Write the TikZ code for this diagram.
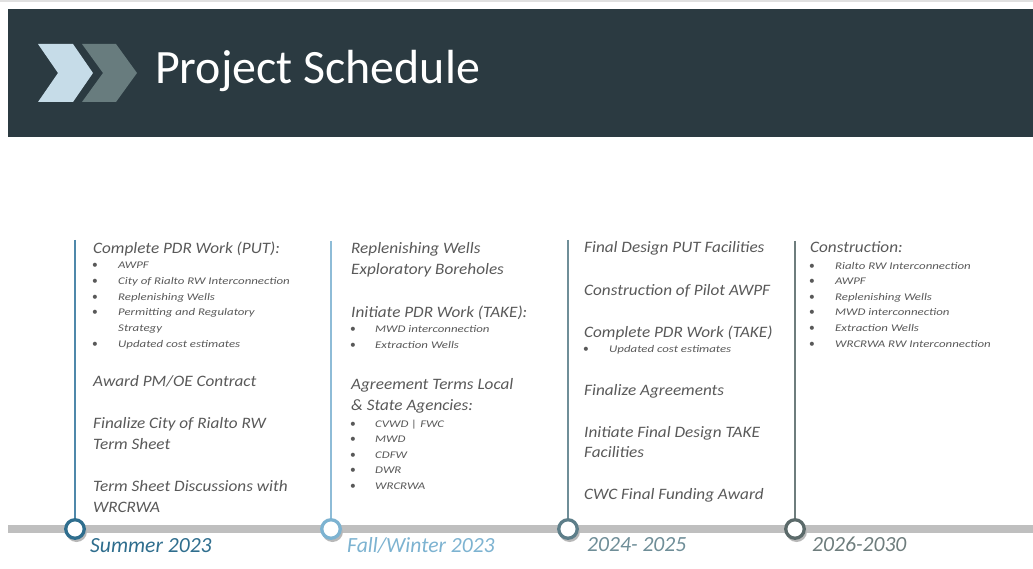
\documentclass[tikz,border=0pt]{standalone}
\usepackage{fontspec}
\setmainfont{Carlito}
\newfontfamily\headfont[FakeStretch=1.08]{Carlito}
\newfontfamily\bulfont[FakeStretch=1.26]{Carlito}
\definecolor{hdr}{HTML}{2B3A41}
\definecolor{chevA}{HTML}{C6DCE8}
\definecolor{chevB}{HTML}{687C7E}
\definecolor{txt}{HTML}{595959}
\definecolor{bar}{HTML}{BFBFBF}
\definecolor{cA}{HTML}{2F6E8E}
\definecolor{lA}{HTML}{4F88AA}
\definecolor{cB}{HTML}{7DB3D1}
\definecolor{lB}{HTML}{8EBCD7}
\definecolor{cC}{HTML}{5D7E89}
\definecolor{lC}{HTML}{6F8E98}
\definecolor{cD}{HTML}{5B6A6A}
\definecolor{lD}{HTML}{6E7D7D}
\tikzset{
  head/.style={anchor=base west, inner sep=0pt, text=txt, font=\headfont\fontsize{15.9}{18}\selectfont\itshape},
  btxt/.style={anchor=base west, inner sep=0pt, text=txt, font=\bulfont\fontsize{10.2}{12}\selectfont\itshape},
  bdot/.style={anchor=base, inner sep=0pt, text=txt, font=\fontsize{11.5}{12}\selectfont},
  year/.style={anchor=base west, inner sep=0pt, font=\fontsize{21.6}{24}\selectfont\itshape},
  stem/.style={line width=1.8pt},
  dot/.style={circle, minimum size=18.5pt, inner sep=0pt, line width=3.3pt, fill=white},
  shadowdot/.style={circle, minimum size=21pt, inner sep=0pt, fill=black!28},
}
\begin{document}
\begin{tikzpicture}[x=1pt,y=-1pt]
\useasboundingbox (0,0) rectangle (1033,569);
\fill[white] (0,0) rectangle (1033,569);
\fill[black!12] (0,0) rectangle (1033,2.5);
% header
\fill[hdr] (8,9) rectangle (1033,137);
\fill[chevB] (82,44) -- (116,44) -- (137,73) -- (116,102) -- (82,102) -- (103,73) -- cycle;
\fill[chevA] (38,44) -- (73,44) -- (93,73) -- (73,102) -- (38,102) -- (58,73) -- cycle;
\node[anchor=base west, inner sep=0pt, text=white, font=\fontsize{47.9}{50}\selectfont] (title) at (155,84) {Project Schedule};
% timeline bar
\fill[bar] (8,525) rectangle (1033,533);
% columns: stems and dots
\coordinate (tA) at (75,240);
\coordinate (tB) at (331,241);
\coordinate (tC) at (568,240);
\coordinate (tD) at (795,241);
\foreach \x in {75,331,568,795}{
  \node[shadowdot] at (\x+1.5,531.5) {};
}
\node[dot, draw=cA] (dA) at (75,529) {};
\node[dot, draw=cB] (dB) at (331,529) {};
\node[dot, draw=cC] (dC) at (568,529) {};
\node[dot, draw=cD] (dD) at (795,529) {};
\draw[stem, lA] (tA) -- (dA.north);
\draw[stem, lB] (tB) -- (dB.north);
\draw[stem, lC] (tC) -- (dC.north);
\draw[stem, lD] (tD) -- (dD.north);
% column A
\node[head] (a1) at (93,254) {Complete PDR Work (PUT):};
\foreach \y/\t [count=\i] in {269/AWPF,285/City of Rialto RW Interconnection,300.5/Replenishing Wells,316/Permitting and Regulatory,347/Updated cost estimates}{
  \node[bdot] (ab\i) at (95,\y) {•};
  \node[btxt] (at\i) at (118,\y) {\t};
}
\node[btxt] (as) at (118,331) {Strategy};
\node[head] (a2) at (93,386) {Award PM/OE Contract};
\node[head] (a3) at (93,428) {Finalize City of Rialto RW};
\node[head] (a4) at (93,449) {Term Sheet};
\node[head] (a5) at (93,491) {Term Sheet Discussions with};
\node[head] (a6) at (93,512) {WRCRWA};
\node[year, text=cA] (ya) at (90,552) {Summer 2023};
% column B
\node[head] (b1) at (351,253.5) {Replenishing Wells};
\node[head] (b2) at (351,275) {Exploratory Boreholes};
\node[head] (b3) at (351,317) {Initiate PDR Work (TAKE):};
\foreach \y/\t [count=\i] in {332.5/MWD interconnection,348.5/Extraction Wells}{
  \node[bdot] (bb\i) at (353,\y) {•};
  \node[btxt] (bt\i) at (375,\y) {\t};
}
\node[head] (b4) at (351,389) {Agreement Terms Local};
\node[head] (b5) at (351,410) {\& State Agencies:};
\foreach \y/\t [count=\i] in {427/CVWD | FWC,442/MWD,458/CDFW,473/DWR,489/WRCRWA}{
  \node[bdot] (bc\i) at (353,\y) {•};
  \node[btxt] (bu\i) at (375,\y) {\t};
}
\node[year, text=cB] (yb) at (347,552) {Fall/Winter 2023};
% column C
\node[head] (c1) at (584,253) {Final Design PUT Facilities};
\node[head] (c2) at (584,295) {Construction of Pilot AWPF};
\node[head] (c3) at (584,337) {Complete PDR Work (TAKE)};
\node[bdot] (cb1) at (586,352) {•};
\node[btxt] (ct1) at (609,352) {Updated cost estimates};
\node[head] (c4) at (584,395) {Finalize Agreements};
\node[head] (c5) at (584,437) {Initiate Final Design TAKE};
\node[head] (c6) at (584,457) {Facilities};
\node[head] (c7) at (584,499) {CWC Final Funding Award};
\node[year, text=lC] (yc) at (587,551) {2024- 2025};
% column D
\node[head] (d1) at (810,253) {Construction:};
\foreach \y/\t [count=\i] in {270/Rialto RW Interconnection,285/AWPF,301/Replenishing Wells,316/MWD interconnection,331/Extraction Wells,347/WRCRWA RW Interconnection}{
  \node[bdot] (db\i) at (812,\y) {•};
  \node[btxt] (dt\i) at (835,\y) {\t};
}
\node[year, text=lD] (yd) at (812,551) {2026-2030};
\end{tikzpicture}
\end{document}
